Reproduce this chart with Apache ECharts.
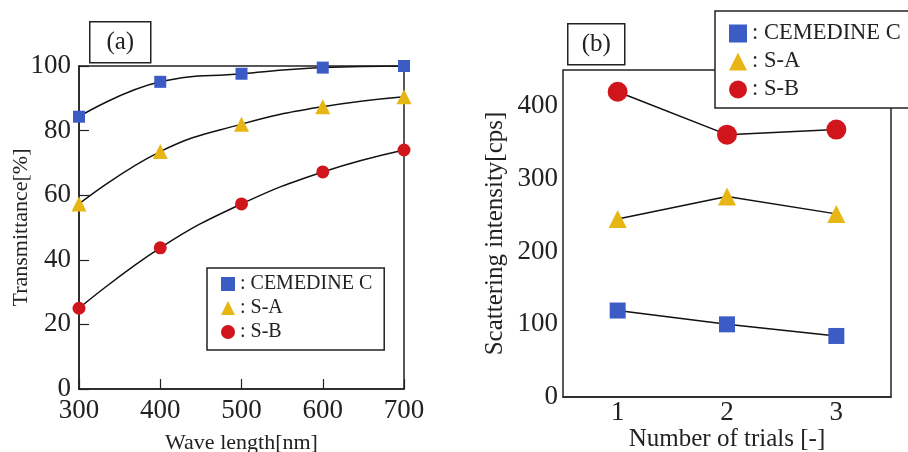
<!DOCTYPE html>
<html>
<head>
<meta charset="utf-8">
<script src="https://cdn.jsdelivr.net/npm/echarts@6/dist/echarts.min.js"></script>
<style>
html,body{margin:0;padding:0;background:#fff;}
#main{width:908px;height:452px;}
</style>
</head>
<body>
<div id="main"></div>
<script>
// panel (a) transmittance vs wave length
var waveLength = [300, 400, 500, 600, 700];
var transCemedine = [84.3, 95.1, 97.6, 99.5, 100];
var transSA = [57.3, 73.5, 82.0, 87.4, 90.5];
var transSB = [25.0, 43.7, 57.3, 67.2, 74.0];

// panel (b) scattering intensity vs trials
var trials = ['1', '2', '3'];
var scatCemedine = [119, 100, 84];
var scatSA = [245, 276, 252];
var scatSB = [420, 361, 368];

var names = ['CEMEDINE C', 'S-A', 'S-B'];
var colors = ['#3a5cc4', '#e8b614', '#d0161c'];
var icons = ['rect', 'triangle', 'circle'];

var FONT = '"Liberation Serif", "Times New Roman", serif';
var INK = '#222';

function pairs(xs, ys) {
    var out = [];
    for (var i = 0; i < xs.length; i++) out.push([xs[i], ys[i]]);
    return out;
}

var chart = echarts.init(document.getElementById('main'));

var axisCommon = {
    nameMoveOverlap: false,
    axisLine: {lineStyle: {color: INK, width: 1.5}},
    axisTick: {inside: true, length: 10, lineStyle: {color: INK, width: 1.2}},
    splitLine: {show: false},
    nameTextStyle: {fontFamily: FONT, color: INK},
    axisLabel: {fontFamily: FONT, color: INK, fontSize: 27}
};

function ax(extra) {
    return echarts.util.merge(echarts.util.clone(axisCommon), extra, true);
}

function legendItems() {
    return names.map(function (n, i) {
        return {name: n, icon: icons[i]};
    });
}

var seriesA = [transCemedine, transSA, transSB].map(function (d, i) {
    return {
        name: names[i], type: 'line', xAxisIndex: 0, yAxisIndex: 0,
        data: pairs(waveLength, d), smooth: 0.45,
        symbol: icons[i], symbolSize: [12, 15, 13][i],
        itemStyle: {color: colors[i]},
        lineStyle: {color: '#111', width: 1.5},
        z: 3 - i
    };
});
var seriesB = [scatCemedine, scatSA, scatSB].map(function (d, i) {
    return {
        name: names[i], type: 'line', xAxisIndex: 1, yAxisIndex: 1,
        data: d,
        symbol: icons[i], symbolSize: [16, 18, 20][i],
        itemStyle: {color: colors[i]},
        lineStyle: {color: '#111', width: 1.5}
    };
});

var option = {
    backgroundColor: '#fff',
    animation: false,
    grid: [
        {left: 79, top: 66, width: 325, height: 323, show: true, borderColor: INK, borderWidth: 1.5, containLabel: false, outerBoundsMode: 'none'},
        {left: 563, top: 70, width: 328, height: 327, show: true, borderColor: INK, borderWidth: 1.5, containLabel: false, outerBoundsMode: 'none'}
    ],
    xAxis: [
        ax({
            type: 'value', gridIndex: 0, min: 300, max: 700, interval: 100,
            name: 'Wave length[nm]', nameLocation: 'middle', nameGap: 43,
            nameTextStyle: {fontSize: 22},
            axisLabel: {margin: 8}
        }),
        ax({
            type: 'category', gridIndex: 1, data: trials, boundaryGap: true,
            axisTick: {alignWithLabel: true},
            name: 'Number of trials [-]', nameLocation: 'middle', nameGap: 30,
            nameTextStyle: {fontSize: 25},
            axisLabel: {margin: 2}
        })
    ],
    yAxis: [
        ax({
            type: 'value', gridIndex: 0, min: 0, max: 100, interval: 20,
            name: 'Transmittance[%]', nameLocation: 'middle', nameGap: 47,
            nameTextStyle: {fontSize: 22},
            axisLabel: {margin: 8}
        }),
        ax({
            type: 'value', gridIndex: 1, min: 0, max: 450, interval: 100,
            name: 'Scattering intensity[cps]', nameLocation: 'middle', nameGap: 55,
            nameTextStyle: {fontSize: 25},
            axisLabel: {margin: 5, showMaxLabel: false}
        })
    ],
    legend: [
        {
            left: 207, top: 268, orient: 'vertical',
            data: legendItems(),
            formatter: ': {name}',
            itemWidth: 14, itemHeight: 14, itemGap: 4,
            padding: [6, 12, 8, 14],
            borderColor: INK, borderWidth: 1.5, backgroundColor: '#fff',
            textStyle: {fontFamily: FONT, fontSize: 20, color: INK},
            selectedMode: false
        },
        {
            left: 715, top: 11, orient: 'vertical',
            data: legendItems(),
            formatter: ': {name}',
            itemWidth: 18, itemHeight: 18, itemGap: 5,
            padding: [11, 40, 7, 14],
            borderColor: INK, borderWidth: 1.5, backgroundColor: '#fff',
            textStyle: {fontFamily: FONT, fontSize: 22.5, color: INK},
            selectedMode: false,
            z: 10
        }
    ],
    graphic: [
        {
            type: 'group', left: 89, top: 21,
            children: [
                {type: 'rect', shape: {x: 0, y: 0, width: 61, height: 41}, style: {fill: '#fff', stroke: INK, lineWidth: 1.5}},
                {type: 'text', x: 30.5, y: 21, style: {text: '(a)', font: '25px ' + FONT, fill: INK, textAlign: 'center', textVerticalAlign: 'middle'}}
            ]
        },
        {
            type: 'group', left: 567, top: 23,
            children: [
                {type: 'rect', shape: {x: 0, y: 0, width: 57, height: 41}, style: {fill: '#fff', stroke: INK, lineWidth: 1.5}},
                {type: 'text', x: 28.5, y: 21, style: {text: '(b)', font: '25px ' + FONT, fill: INK, textAlign: 'center', textVerticalAlign: 'middle'}}
            ]
        }
    ],
    series: seriesA.concat(seriesB)
};

chart.setOption(option);
</script>
</body>
</html>
